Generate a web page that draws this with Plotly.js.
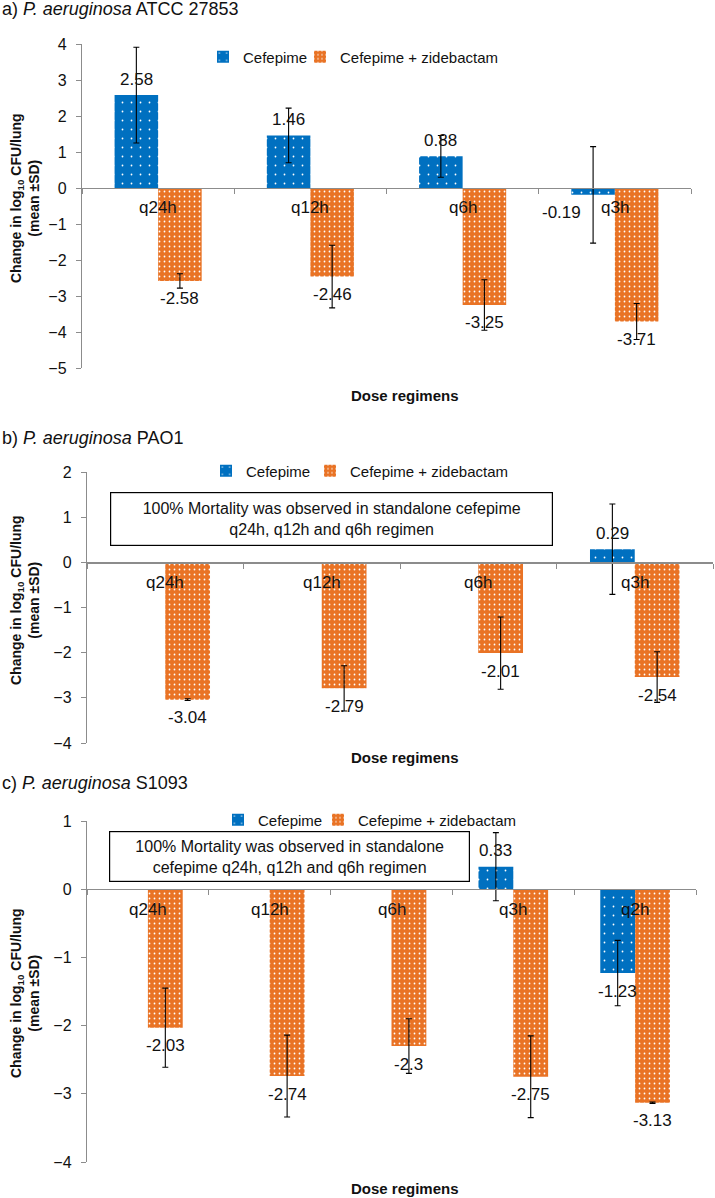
<!DOCTYPE html>
<html><head><meta charset="utf-8">
<script src="https://cdn.plot.ly/plotly-3.0.1.min.js"></script>
<style>html,body{margin:0;padding:0;background:#fff}</style>
</head><body><div id="chart" style="width:715px;height:1198px"></div>
<script>
// ---- data ----
const categoriesA = ['q24h', 'q12h', 'q6h', 'q3h'];
const cefepimeA   = [2.58, 1.46, 0.88, -0.19];
const cefepimeSdA = [1.33, 0.76, 0.58, 1.34];
const comboA      = [-2.58, -2.46, -3.25, -3.71];
const comboSdA    = [0.20, 0.87, 0.70, 0.50];

const categoriesB = ['q24h', 'q12h', 'q6h', 'q3h'];
const cefepimeB   = [null, null, null, 0.29];
const cefepimeSdB = [null, null, null, 1.00];
const comboB      = [-3.04, -2.79, -2.01, -2.54];
const comboSdB    = [0.02, 0.50, 0.80, 0.56];

const categoriesC = ['q24h', 'q12h', 'q6h', 'q3h', 'q2h'];
const cefepimeC   = [null, null, null, 0.33, -1.23];
const cefepimeSdC = [null, null, null, 0.50, 0.48];
const comboC      = [-2.03, -2.74, -2.30, -2.75, -3.13];
const comboSdC    = [0.58, 0.60, 0.40, 0.60, 0.01];

const seriesNames = ['Cefepime', 'Cefepime + zidebactam'];
const panelTitles = ['a) <i>P. aeruginosa</i> ATCC 27853', 'b) <i>P. aeruginosa</i> PAO1', 'c) <i>P. aeruginosa</i> S1093'];
const noteB = '100% Mortality was observed in standalone cefepime<br>q24h, q12h and q6h regimen';
const noteC = '100% Mortality was observed in standalone<br>cefepime q24h, q12h and q6h regimen';
const xTitle = 'Dose regimens';
const yTitle = 'Change in log<sub>10</sub> CFU/lung<br>(mean ±SD)';

// ---- layout geometry (pixels) ----
const W = 715, H = 1198;
const px = v => v / W, py = v => 1 - v / H;
const BLUE = '#0070C0', ORANGE = '#E97325', AXIS = '#8c8c8c', TXT = '#111';
const FONT = 'Liberation Sans, Arial, sans-serif';
const bargap = 0.428;
const barW = (1 - bargap) / 2, off = barW / 2;

const panels = [
  {sfx: '', cats: categoriesA, s1: cefepimeA, e1: cefepimeSdA, s2: comboA, e2: comboSdA,
   x0: 82, x1: 691, yTop: 44, yBot: 368, range: [-5, 4], titleY: 9, legY: 57, legText: [243, 340],
   xtY: 395, ytY: 198, note: null, nudge: {3: -0.21}},
  {sfx: '2', cats: categoriesB, s1: cefepimeB, e1: cefepimeSdB, s2: comboB, e2: comboSdB,
   x0: 87, x1: 713, yTop: 472, yBot: 743, range: [-4, 2], titleY: 438, legY: 471, legText: [246, 350],
   xtY: 757, ytY: 600, note: {text: noteB, x0: 110, x1: 553, y0: 492, y1: 546}, nudge: {}},
  {sfx: '3', cats: categoriesC, s1: cefepimeC, e1: cefepimeSdC, s2: comboC, e2: comboSdC,
   x0: 87, x1: 696, yTop: 821, yBot: 1162, range: [-4, 1], titleY: 783, legY: 820, legText: [258, 358],
   xtY: 1188, ytY: 993, note: {text: noteC, x0: 109, x1: 470, y0: 831, y1: 882}, nudge: {}}
];

const traces = [];
const layout = {
  width: W, height: H, margin: {l: 0, r: 0, t: 0, b: 0},
  paper_bgcolor: '#fff', plot_bgcolor: 'rgba(0,0,0,0)',
  barmode: 'group', bargap: bargap, bargroupgap: 0,
  font: {family: FONT, color: TXT},
  showlegend: true, annotations: []
};

let legCount = 0;
const newLegend = (textX, y) => {
  legCount += 1;
  const name = legCount === 1 ? 'legend' : 'legend' + legCount;
  layout[name] = {
    x: px(textX - 40), y: py(y), xanchor: 'left', yanchor: 'middle', orientation: 'h',
    font: {size: 15, color: TXT}, bgcolor: 'rgba(0,0,0,0)', borderwidth: 0
  };
  return name;
};

panels.forEach((p, k) => {
  const xa = 'xaxis' + p.sfx, ya = 'yaxis' + p.sfx;
  const xr = 'x' + p.sfx, yr = 'y' + p.sfx;
  const d0 = py(p.yBot), d1 = py(p.yTop);
  const zeroPos = d0 + (0 - p.range[0]) / (p.range[1] - p.range[0]) * (d1 - d0);

  layout[xa] = {
    domain: [px(p.x0), px(p.x1)], anchor: 'free', position: zeroPos,
    type: 'category', categoryarray: p.cats, range: [-0.5, p.cats.length - 0.5],
    tickson: 'boundaries', ticks: 'outside', ticklen: 5, tickcolor: AXIS, tickwidth: 1,
    showline: true, linecolor: AXIS, linewidth: 1.2, showticklabels: false,
    showgrid: false, zeroline: false, fixedrange: true
  };
  layout[ya] = {
    domain: [d0, d1], anchor: xr, range: p.range, dtick: 1, tick0: 0,
    ticks: 'outside', ticklen: 5, tickcolor: AXIS, showline: true, linecolor: AXIS, linewidth: 1.2,
    showgrid: false, zeroline: false, tickfont: {size: 16, color: TXT}, ticklabelstandoff: 6,
    fixedrange: true
  };

  const mk = (vals, sds, name, color, size, solidity, leg) => ({
    type: 'bar', x: p.cats, y: vals, name: name, xaxis: xr, yaxis: yr, legend: leg,
    marker: {color: color, line: {width: 0},
      pattern: {shape: '.', fillmode: 'overlay', fgcolor: '#ffffff', fgopacity: 1, size: size, solidity: solidity}},
    error_y: {type: 'data', array: sds, visible: true, color: '#000', thickness: 1.1, width: 3},
    hoverinfo: 'skip', cliponaxis: false
  });
  traces.push(mk(p.s1, p.e1, seriesNames[0], BLUE, 9, 0.03, newLegend(p.legText[0], p.legY)));
  traces.push(mk(p.s2, p.e2, seriesNames[1], ORANGE, 5, 0.1, newLegend(p.legText[1], p.legY)));

  // value labels
  [[p.s1, -off, p.nudge], [p.s2, off, {}]].forEach(([vals, o, nudge]) => {
    vals.forEach((v, i) => {
      if (v === null) return;
      layout.annotations.push({
        xref: xr, yref: yr, x: i + o + (nudge[i] || 0), y: v, text: String(v),
        showarrow: false, yanchor: 'middle', xanchor: 'center',
        yshift: v >= 0 ? 16 : -18, font: {size: 17, color: TXT}
      });
    });
  });
  // category labels next to the zero line
  p.cats.forEach((c, i) => {
    layout.annotations.push({
      xref: xr, yref: yr, x: i, y: 0, text: c, showarrow: false,
      yanchor: 'middle', yshift: -20, font: {size: 17, color: TXT}
    });
  });
  // panel title
  layout.annotations.push({xref: 'paper', yref: 'paper', x: 0, y: py(p.titleY), xanchor: 'left',
    yanchor: 'middle', text: panelTitles[k], showarrow: false, font: {size: 18, color: TXT}});
  // x title
  layout.annotations.push({xref: 'paper', yref: 'paper', x: px(405), y: py(p.xtY), xanchor: 'center',
    yanchor: 'middle', text: '<b>' + xTitle + '</b>', showarrow: false, font: {size: 15, color: TXT}});
  // y title
  layout.annotations.push({xref: 'paper', yref: 'paper', x: px(25), y: py(p.ytY), xanchor: 'center',
    yanchor: 'middle', textangle: -90, text: '<b>' + yTitle + '</b>', showarrow: false,
    font: {size: 14, color: TXT}});
  // note box
  if (p.note) {
    const n = p.note;
    layout.annotations.push({xref: 'paper', yref: 'paper', x: px((n.x0 + n.x1) / 2), y: py((n.y0 + n.y1) / 2),
      xanchor: 'center', yanchor: 'middle', text: n.text, showarrow: false,
      width: n.x1 - n.x0 - 4, height: n.y1 - n.y0 - 4, borderpad: 1, bordercolor: '#000', borderwidth: 1.2,
      bgcolor: '#fff', align: 'center', font: {size: 16, color: TXT}});
  }
});

Plotly.newPlot('chart', traces, layout, {displayModeBar: false, staticPlot: true});
</script>
</body></html>
